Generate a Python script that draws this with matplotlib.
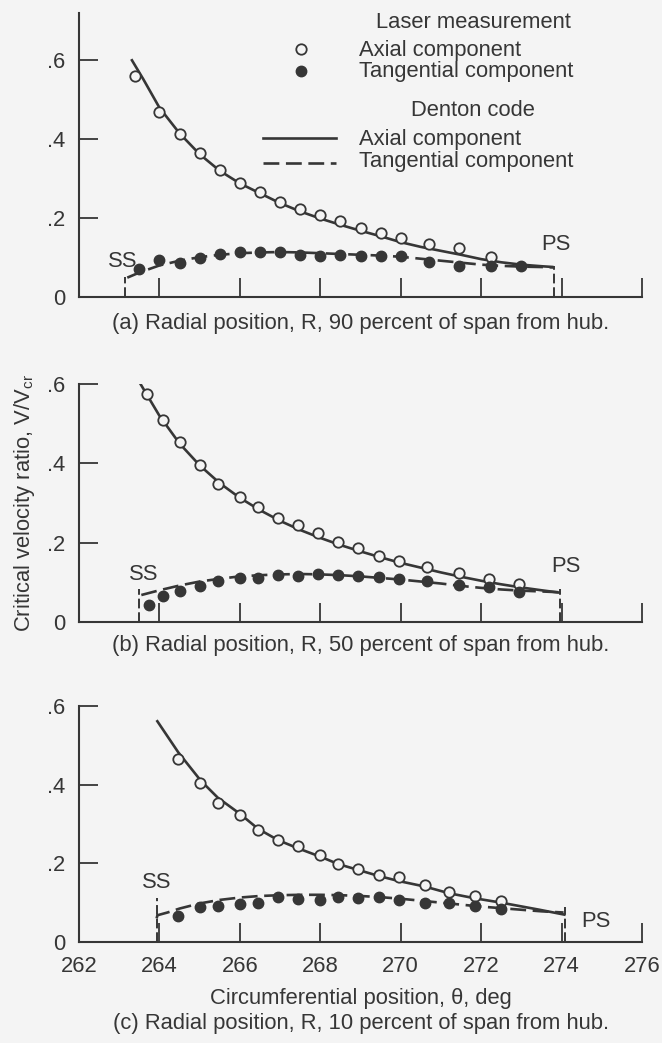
import matplotlib
matplotlib.use("Agg")
import matplotlib.pyplot as plt
from matplotlib.lines import Line2D

plt.rcParams['font.family'] = ['Liberation Sans', 'DejaVu Sans']
plt.rcParams['mathtext.fontset'] = 'custom'
plt.rcParams['mathtext.rm'] = 'Liberation Sans'
plt.rcParams['mathtext.it'] = 'Liberation Sans'

INK = '#363636'
BG = '#f4f4f4'
FS = 15.8

# ---------------- panel (a): 90 percent span ----------------
a_meas_theta = [263.4, 264.0, 264.5, 265.0, 265.5, 266.0, 266.5, 267.0, 267.5, 268.0,
                268.5, 269.0, 269.5, 270.0, 270.7, 271.45, 272.25]
a_meas_axial = [0.560, 0.468, 0.414, 0.364, 0.321, 0.289, 0.267, 0.242, 0.224, 0.207,
                0.192, 0.175, 0.161, 0.149, 0.134, 0.125, 0.102]
a_tang_theta = [263.5, 264.0, 264.5, 265.0, 265.5, 266.0, 266.5, 267.0, 267.5, 268.0,
                268.5, 269.0, 269.5, 270.0, 270.7, 271.45, 272.25, 273.0]
a_meas_tang = [0.070, 0.095, 0.085, 0.100, 0.109, 0.115, 0.113, 0.114, 0.107, 0.105,
               0.107, 0.105, 0.104, 0.104, 0.090, 0.079, 0.079, 0.078]
a_code_theta = [263.3, 263.6, 264.0, 264.5, 265.0, 265.5, 266.0, 266.5, 267.0, 267.5,
                268.0, 268.5, 269.0, 269.5, 270.0, 270.5, 271.0, 271.5, 272.0, 272.5,
                273.0, 273.5, 273.8]
a_code_axial = [0.603, 0.552, 0.480, 0.415, 0.362, 0.320, 0.288, 0.263, 0.238, 0.217,
                0.199, 0.183, 0.168, 0.154, 0.139, 0.127, 0.117, 0.107, 0.096, 0.088,
                0.082, 0.078, 0.076]
a_tcode_theta = [263.2, 263.5, 264.0, 264.5, 265.0, 265.5, 266.0, 266.5, 267.0, 267.5,
                 268.0, 268.5, 269.0, 269.5, 270.0, 270.5, 271.0, 271.5, 272.0, 272.5,
                 273.0, 273.5, 273.8]
a_code_tang = [0.049, 0.062, 0.080, 0.092, 0.101, 0.107, 0.111, 0.113, 0.114, 0.113,
               0.111, 0.109, 0.107, 0.105, 0.102, 0.097, 0.092, 0.087, 0.082, 0.079,
               0.077, 0.076, 0.075]
a_ss = (263.15, 0.050)
a_ps = (273.8, 0.078)

# ---------------- panel (b): 50 percent span ----------------
b_meas_theta = [263.7, 264.1, 264.5, 265.0, 265.45, 266.0, 266.45, 266.95, 267.45, 267.95,
                268.45, 268.95, 269.45, 269.95, 270.65, 271.45, 272.2, 272.95]
b_meas_axial = [0.576, 0.510, 0.453, 0.397, 0.349, 0.315, 0.289, 0.261, 0.245, 0.224,
                0.201, 0.186, 0.167, 0.155, 0.139, 0.124, 0.109, 0.096]
b_tang_theta = [263.75, 264.1, 264.5, 265.0, 265.45, 266.0, 266.45, 266.95, 267.45, 267.95,
                268.45, 268.95, 269.45, 269.95, 270.65, 271.45, 272.2, 272.95]
b_meas_tang = [0.044, 0.066, 0.079, 0.092, 0.103, 0.111, 0.111, 0.119, 0.115, 0.121,
               0.119, 0.115, 0.113, 0.109, 0.103, 0.094, 0.087, 0.075]
b_code_theta = [263.5, 264.0, 264.5, 265.0, 265.5, 266.0, 266.5, 267.0, 267.5, 268.0,
                268.5, 269.0, 269.5, 270.0, 270.5, 271.0, 271.5, 272.0, 272.5, 273.0,
                273.5, 273.95]
b_code_axial = [0.605, 0.520, 0.450, 0.395, 0.350, 0.313, 0.282, 0.255, 0.232, 0.212,
                0.194, 0.178, 0.163, 0.149, 0.137, 0.125, 0.114, 0.104, 0.095, 0.087,
                0.080, 0.074]
b_tcode_theta = [263.55, 264.0, 264.5, 265.0, 265.5, 266.0, 266.5, 267.0, 267.5, 268.0,
                 268.5, 269.0, 269.5, 270.0, 270.5, 271.0, 271.5, 272.0, 272.5, 273.0,
                 273.5, 273.95]
b_code_tang = [0.068, 0.080, 0.092, 0.102, 0.109, 0.115, 0.118, 0.120, 0.121, 0.120,
               0.118, 0.115, 0.111, 0.107, 0.102, 0.097, 0.091, 0.086, 0.082, 0.079,
               0.077, 0.075]
b_ss = (263.5, 0.082)
b_ps = (273.95, 0.084)

# ---------------- panel (c): 10 percent span ----------------
c_meas_theta = [264.45, 265.0, 265.45, 266.0, 266.45, 266.95, 267.45, 268.0, 268.45, 268.95,
                269.45, 269.95, 270.6, 271.2, 271.85, 272.5]
c_meas_axial = [0.465, 0.404, 0.353, 0.324, 0.286, 0.259, 0.244, 0.222, 0.199, 0.185,
                0.170, 0.164, 0.144, 0.128, 0.117, 0.105]
c_meas_tang = [0.065, 0.088, 0.092, 0.097, 0.099, 0.115, 0.110, 0.107, 0.115, 0.112,
               0.114, 0.107, 0.100, 0.099, 0.092, 0.083]
c_code_theta = [263.93, 264.47, 265.03, 265.45, 266.0, 266.45, 266.95, 267.45, 268.0, 268.45,
                268.95, 269.45, 269.95, 270.6, 271.2, 271.85, 272.5, 273.45, 274.1]
c_code_axial = [0.564, 0.482, 0.410, 0.367, 0.326, 0.288, 0.259, 0.238, 0.217, 0.198,
                0.183, 0.168, 0.155, 0.141, 0.124, 0.111, 0.100, 0.082, 0.069]
c_tcode_theta = [263.93, 263.95, 264.2, 264.5, 265.0, 265.5, 266.0, 266.5, 267.0, 267.5,
                 268.0, 268.5, 269.0, 269.5, 270.0, 270.5, 271.0, 271.5, 272.0, 272.5,
                 273.0, 273.5, 274.05]
c_code_tang = [0.060, 0.068, 0.075, 0.085, 0.098, 0.107, 0.113, 0.117, 0.119, 0.120,
               0.120, 0.119, 0.117, 0.114, 0.110, 0.105, 0.100, 0.095, 0.090, 0.086,
               0.082, 0.078, 0.075]
c_ss = (263.93, 0.111)
c_ps = (274.08, 0.090)

x_ticks = [262, 264, 266, 268, 270, 272, 274, 276]
y_ticks = [0, 0.2, 0.4, 0.6]
y_tick_labels = ['0', '.2', '.4', '.6']

captions = ['(a) Radial position, R, 90 percent of span from hub.',
            '(b) Radial position, R, 50 percent of span from hub.',
            '(c) Radial position, R, 10 percent of span from hub.']

W, H = 662, 1043
fig = plt.figure(figsize=(W / 100, H / 100), dpi=100, facecolor=BG)


def px_axes(left, right, y0, y1):
    """Axes rectangle from pixel positions (y measured from the top)."""
    return fig.add_axes([left / W, 1 - y0 / H, (right - left) / W, (y0 - y1) / H])


ax_a = px_axes(79, 642, 297, 13)
ax_b = px_axes(79, 642, 622, 384)
ax_c = px_axes(79, 642, 942, 706)

panels = [
    (ax_a, 0.72, a_meas_theta, a_meas_axial, a_tang_theta, a_meas_tang,
     a_code_theta, a_code_axial, a_tcode_theta, a_code_tang, a_ss, a_ps,
     (263.09, 0.089), (273.87, 0.132)),
    (ax_b, 0.60, b_meas_theta, b_meas_axial, b_tang_theta, b_meas_tang,
     b_code_theta, b_code_axial, b_tcode_theta, b_code_tang, b_ss, b_ps,
     (263.6, 0.121), (274.1, 0.14)),
    (ax_c, 0.60, c_meas_theta, c_meas_axial, c_meas_theta, c_meas_tang,
     c_code_theta, c_code_axial, c_tcode_theta, c_code_tang, c_ss, c_ps,
     (263.92, 0.152), (274.85, 0.052)),
]

for (ax, ytop, mt, ma, tt, mtg, ct, ca, tct, ctg, ss, ps, ss_lab, ps_lab) in panels:
    ax.set_facecolor('none')
    ax.set_xlim(262, 276)
    ax.set_ylim(0, ytop)
    for s in ('top', 'right'):
        ax.spines[s].set_visible(False)
    for s in ('left', 'bottom'):
        ax.spines[s].set_color(INK)
        ax.spines[s].set_linewidth(1.5)
    ax.set_xticks(x_ticks)
    ax.set_yticks(y_ticks)
    ax.set_yticklabels(y_tick_labels)
    ax.tick_params(direction='in', length=14, width=1.3, color=INK,
                   labelsize=FS, labelcolor=INK)
    ax.tick_params(axis='y', pad=10)
    ax.tick_params(axis='x', pad=10)

    # Denton code solution
    ax.plot(ct, ca, color=INK, lw=1.9, solid_capstyle='butt')
    ax.plot(tct, ctg, color=INK, lw=1.9, dashes=(6, 2.5))
    # laser measurements
    ax.plot(mt, ma, 'o', ms=7.5, mfc=BG, mec=INK, mew=1.3)
    ax.plot(tt, mtg, 'o', ms=7.5, mfc=INK, mec=INK)

    # suction and pressure surface markers
    ax.plot([ss[0], ss[0]], [0, ss[1]], color=INK, lw=1.4, dashes=(5, 2))
    ax.plot([ps[0], ps[0]], [0, ps[1]], color=INK, lw=1.4, dashes=(5, 2))
    ax.text(*ss_lab, 'SS', ha='center', va='center', fontsize=FS, color=INK)
    ax.text(*ps_lab, 'PS', ha='center', va='center', fontsize=FS, color=INK)

ax_a.tick_params(axis='x', labelbottom=False)
ax_b.tick_params(axis='x', labelbottom=False)

ax_c.set_xlabel('Circumferential position, \u03b8, deg', fontsize=FS, color=INK, labelpad=8)
ax_b.set_ylabel(r'Critical velocity ratio, V/V$_{\rm cr}$', fontsize=FS, color=INK)
ax_b.yaxis.set_label_coords(-0.075, 0.5)


def fy(y):
    return 1 - y / H


# panel captions, centred under the axes
cx = (79 + 642) / 2 / W
fig.text(cx, fy(324), captions[0], ha='center', va='center', fontsize=FS, color=INK)
fig.text(cx, fy(645), captions[1], ha='center', va='center', fontsize=FS, color=INK)
fig.text(cx, fy(1024), captions[2], ha='center', va='center', fontsize=FS, color=INK)

# key
fig.text(473 / W, fy(22), 'Laser measurement', ha='center', va='center', fontsize=FS, color=INK)
fig.add_artist(Line2D([300.5 / W], [fy(48.5)], marker='o', ms=7.5, mfc=BG, mec=INK, mew=1.3, ls='none'))
fig.text(359 / W, fy(50.5), 'Axial component', ha='left', va='center', fontsize=FS, color=INK)
fig.add_artist(Line2D([300.5 / W], [fy(70.5)], marker='o', ms=7.5, mfc=INK, mec=INK, ls='none'))
fig.text(359 / W, fy(71.5), 'Tangential component', ha='left', va='center', fontsize=FS, color=INK)
fig.text(473 / W, fy(111), 'Denton code', ha='center', va='center', fontsize=FS, color=INK)
fig.add_artist(Line2D([262.5 / W, 335.5 / W], [fy(138.3), fy(138.3)], color=INK, lw=1.9))
fig.text(359 / W, fy(140), 'Axial component', ha='left', va='center', fontsize=FS, color=INK)
fig.add_artist(Line2D([262.5 / W, 335.5 / W], [fy(163.3), fy(163.3)], color=INK, lw=1.9, dashes=(6, 2.5)))
fig.text(359 / W, fy(161.5), 'Tangential component', ha='left', va='center', fontsize=FS, color=INK)

fig.savefig('out.png', dpi=100, facecolor=BG)
